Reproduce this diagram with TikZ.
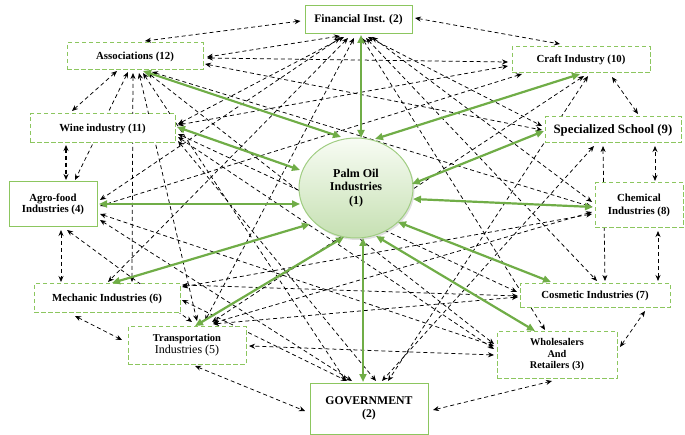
\documentclass[tikz,border=0pt]{standalone}
\usepackage{fontspec}
\setmainfont{Liberation Serif}
\usetikzlibrary{arrows.meta,calc,shapes.geometric,shadows}
\definecolor{boxgreen}{RGB}{140,198,95}
\definecolor{arrgreen}{RGB}{112,173,71}
\definecolor{palmtop}{RGB}{248,252,244}
\definecolor{palmbot}{RGB}{198,224,178}
\definecolor{palmline}{RGB}{160,205,130}
\newcommand\dcon[4]{\draw[dline] ($(#1.center)+(#2)$) -- ($(#3.center)+(#4)$);}
\newcommand\gcon[4]{\draw[gline] ($(#1.center)+(#2)$) -- ($(#3.center)+(#4)$);}
\tikzset{
  basebox/.style={line width=1pt, fill=white, inner sep=0pt, align=center,
    font=\bfseries\fontsize{10.8}{12}\selectfont},
  dbox/.style={basebox, draw=boxgreen, dash pattern=on 4.5pt off 2.5pt},
  sbox/.style={basebox, draw=boxgreen},
  dline/.style={draw=black, line width=0.75pt, dash pattern=on 4pt off 3pt,
    {Stealth[length=6pt,width=5pt]}-{Stealth[length=6pt,width=5pt]}},
  gline/.style={draw=arrgreen, line width=2.2pt,
    {Triangle[length=8pt,width=7pt]}-{Triangle[length=8pt,width=7pt]}},
}
\begin{document}
\begin{tikzpicture}[x=1pt,y=-1pt]
\useasboundingbox (0,0) rectangle (685,435);
% ---- boxes (placed first as coordinates, drawn later) ----
\path
  (358.5,20) coordinate (fin)
  (135,56.5) coordinate (assoc)
  (581,60) coordinate (craft)
  (102.5,128.5) coordinate (wine)
  (613,130) coordinate (spec)
  (53,204.5) coordinate (agro)
  (639,205.5) coordinate (chem)
  (107,298.5) coordinate (mech)
  (595,295.5) coordinate (cosm)
  (187,345.5) coordinate (trans)
  (557,355) coordinate (whole)
  (369,408.5) coordinate (gov)
  (356,188) coordinate (palm);
% ---- dashed connectors ----
\dcon{fin}{-58,1}{assoc}{10,-15.5}
\dcon{fin}{56.5,-2}{craft}{-21,-16}
\dcon{assoc}{-18,14.5}{wine}{-30.5,-17.5}
\draw[dline, line width=1.3pt] ($(wine.center)+(-36.5,16.5)$) -- ($(agro.center)+(13,-24.5)$);
\dcon{agro}{8,25.5}{mech}{-46,-16.5}
\dcon{mech}{-32,17.5}{trans}{-65,-5.5}
\dcon{trans}{8,20.5}{gov}{-64,2.5}
\dcon{gov}{64,1.5}{whole}{-5,26}
\dcon{whole}{63,-8}{cosm}{50,15.5}
\dcon{cosm}{63,-14.5}{chem}{19,25.5}
\dcon{chem}{16,-24.5}{spec}{42,16}
\dcon{spec}{25,-16}{craft}{31,17}
\dcon{spec}{-10,16}{cosm}{10,-14.5}
\dcon{assoc}{-7,15.5}{agro}{22,-24.5}
\dcon{assoc}{72,1.5}{craft}{-73,2}
\dcon{agro}{14,25.5}{trans}{5,-23.5}
\dcon{fin}{-18.5,16}{assoc}{72,0.5}
\dcon{fin}{-14.5,17}{wine}{75.5,-4.5}
\dcon{fin}{-18.5,18}{agro}{47,-4.5}
\dcon{fin}{-10.5,18}{mech}{1,-16.5}
\dcon{fin}{-4.5,18}{trans}{18,-24.5}
\dcon{fin}{9.5,17}{spec}{-71,-4}
\dcon{fin}{13.5,17}{chem}{-47,-3.5}
\dcon{fin}{7.5,18}{cosm}{2,-14.5}
\dcon{fin}{3.5,18}{whole}{-12,-25}
\dcon{assoc}{70,7.5}{spec}{-71,0}
\dcon{assoc}{17,15.5}{chem}{-47,1.5}
\dcon{assoc}{13,16.5}{whole}{-63,-11}
\dcon{assoc}{8,16.5}{gov}{-23,-27.5}
\dcon{assoc}{4,16.5}{trans}{10,-24.5}
\dcon{assoc}{-2,16.5}{mech}{25,-16.5}
\dcon{wine}{75.5,-3.5}{craft}{-73,6}
\dcon{wine}{75.5,5.5}{cosm}{-78,-3.5}
\dcon{wine}{75.5,12.5}{gov}{7,-27.5}
\dcon{wine}{75.5,8.5}{whole}{-63,-6}
\dcon{craft}{7,16}{gov}{19,-27.5}
\dcon{craft}{3,16}{trans}{25,-23.5}
\dcon{craft}{-59,14}{agro}{47,1.5}
\dcon{spec}{-19,16}{gov}{13,-27.5}
\dcon{chem}{-47,6.5}{trans}{26,-22.5}
\dcon{chem}{-47,8.5}{mech}{75,-11.5}
\dcon{cosm}{-77,1.5}{trans}{26,-21.5}
\dcon{agro}{47,9.5}{whole}{-63,-9}
\dcon{mech}{75,-13.5}{cosm}{-77,0.5}
\dcon{whole}{-63,0}{trans}{62,0.5}
\dcon{mech}{75,1.5}{gov}{-22,-27.5}
\dcon{agro}{47,15.5}{gov}{-17,-27.5}
% ---- boxes ----
\node[sbox, minimum width=107pt, minimum height=28pt, font=\bfseries\fontsize{11.5}{12}\selectfont] (finN) at (fin) {Financial Inst. (2)};
\node[dbox, minimum width=136pt, minimum height=27pt] (assocN) at (assoc) {Associations (12)};
\node[dbox, minimum width=138pt, minimum height=26pt] (craftN) at (craft) {Craft Industry (10)};
\node[dbox, minimum width=145pt, minimum height=29pt] (wineN) at (wine) {Wine industry (11)};
\node[dbox, minimum width=136pt, minimum height=26pt, font=\bfseries\fontsize{12.8}{14}\selectfont] (specN) at (spec) {Specialized School (9)};
\node[sbox, minimum width=88pt, minimum height=45pt, font=\bfseries\fontsize{10.8}{11.5}\selectfont] (agroN) at (agro) {Agro-food\\Industries (4)};
\node[dbox, minimum width=88pt, minimum height=45pt, font=\bfseries\fontsize{10.8}{13}\selectfont] (chemN) at (chem) {Chemical\\Industries (8)};
\node[dbox, minimum width=146pt, minimum height=29pt] (mechN) at (mech) {Mechanic Industries (6)};
\node[dbox, minimum width=150pt, minimum height=24pt] (cosmN) at (cosm) {Cosmetic Industries (7)};
\node[dbox, minimum width=118pt, minimum height=37pt, font=\bfseries\fontsize{10.5}{12}\selectfont] (transN) at (trans) {Transportation\\{\mdseries\fontsize{12}{12}\selectfont Industries (5)}};
\node[dbox, minimum width=120pt, minimum height=46pt, font=\bfseries\fontsize{10.3}{11.5}\selectfont] (wholeN) at (whole) {Wholesalers\\And\\Retailers (3)};
\node[sbox, minimum width=118pt, minimum height=51pt, font=\bfseries\fontsize{11.8}{12.5}\selectfont] (govN) at (gov) {GOVERNMENT\\(2)};
% ---- palm oil ellipse ----
\node[ellipse, minimum width=114pt, minimum height=100pt, inner sep=0pt,
  draw=palmline, line width=1pt, top color=palmtop, bottom color=palmbot,
  drop shadow={opacity=0.25, shadow xshift=1.5pt, shadow yshift=-2pt},
  align=center, font=\bfseries\fontsize{12}{13.5}\selectfont] (palmN) at (palm)
  {Palm Oil\\Industries\\(1)};
% ---- green connectors ----
\gcon{palm}{5,-50}{fin}{2.5,15}
\gcon{palm}{-15,-51}{assoc}{8,14.5}
\gcon{palm}{-56,-18}{wine}{74.5,-1.5}
\gcon{palm}{-56,16}{agro}{46,-0.5}
\gcon{palm}{-46,36}{mech}{5,-15.5}
\gcon{palm}{-12,49}{trans}{8,-19.5}
\gcon{palm}{7,50}{gov}{-6,-26.5}
\gcon{palm}{20,48}{whole}{-22,-24}
\gcon{palm}{42,34}{cosm}{-44,-13.5}
\gcon{palm}{57,11}{chem}{-46,1.5}
\gcon{palm}{56,-4}{spec}{-69,1}
\gcon{palm}{19,-49}{craft}{-1,14}
\end{tikzpicture}
\end{document}
